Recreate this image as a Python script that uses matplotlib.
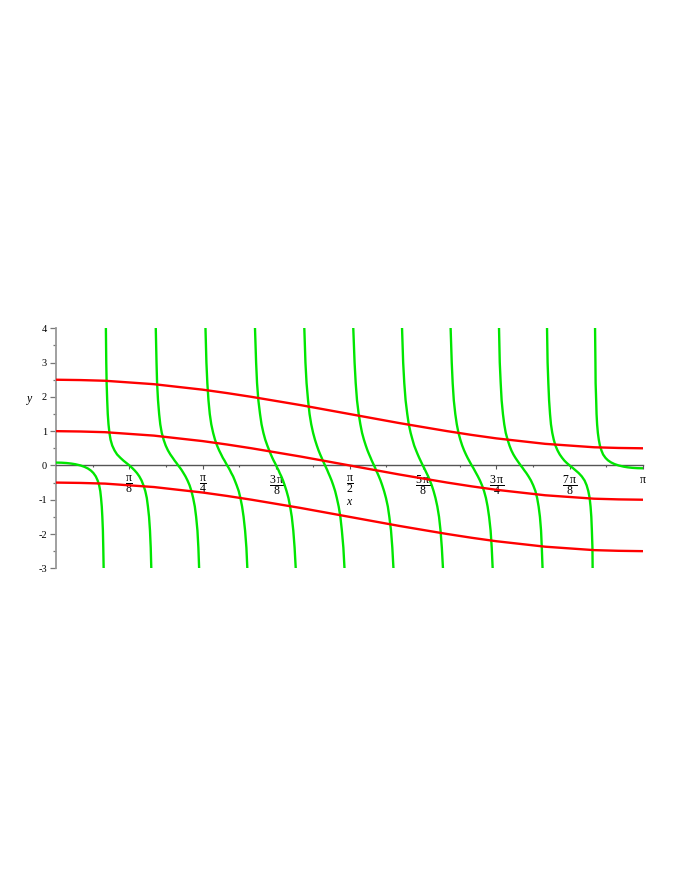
import numpy as np
import matplotlib
matplotlib.use("Agg")
import matplotlib.pyplot as plt

plt.rcParams['font.family'] = ['Liberation Serif', 'DejaVu Serif']
plt.rcParams['mathtext.fontset'] = 'custom'
plt.rcParams['mathtext.rm'] = 'Liberation Serif'
plt.rcParams['mathtext.it'] = 'Liberation Serif:italic'

# ---------------- data ----------------
# red curves sampled at x = k*pi/24
RED_X = [0.0, 0.131, 0.262, 0.393, 0.524, 0.654, 0.785, 0.916, 1.047, 1.178, 1.309,
         1.440, 1.571, 1.702, 1.833, 1.963, 2.094, 2.225, 2.356, 2.487, 2.618, 2.749,
         2.880, 3.011, 3.1416]
RED_TOP = [2.5, 2.49, 2.47, 2.42, 2.37, 2.29, 2.21, 2.11, 2.0, 1.88, 1.76, 1.63, 1.5,
           1.37, 1.24, 1.12, 1.0, 0.89, 0.79, 0.71, 0.63, 0.58, 0.53, 0.51, 0.5]
RED_MID = [1.0, 0.99, 0.97, 0.92, 0.87, 0.79, 0.71, 0.61, 0.5, 0.38, 0.26, 0.13, 0.0,
           -0.13, -0.26, -0.38, -0.5, -0.61, -0.71, -0.79, -0.87, -0.92, -0.97, -0.99, -1.0]
RED_BOT = [-0.5, -0.51, -0.53, -0.58, -0.63, -0.71, -0.79, -0.89, -1.0, -1.12, -1.24,
           -1.37, -1.5, -1.63, -1.76, -1.88, -2.0, -2.11, -2.21, -2.29, -2.37, -2.42,
           -2.47, -2.49, -2.5]

# green curve: each branch is listed as x positions at given y levels
GREEN_LEVELS = [4, 3, 2.4, 1.9, 1.5, 1.2, 0.95, 0.75, 0.58, 0.44, 0.32, 0.22, 0.14, 0.07, 0,
                -0.07, -0.14, -0.22, -0.32, -0.44, -0.58, -0.75, -0.95, -1.2, -1.5, -1.9,
                -2.4, -3]
GREEN_FIRST_LEVELS = [0.083, 0.08, 0.07, 0.055, 0.035, 0, -0.04, -0.09, -0.15, -0.22, -0.32,
                      -0.44, -0.58, -0.75, -0.95, -1.2, -1.5, -1.9, -2.4, -3]
GREEN_LAST_LEVELS = [4, 3, 2.4, 1.9, 1.5, 1.2, 0.95, 0.75, 0.58, 0.44, 0.32, 0.22, 0.15,
                     0.09, 0.04, 0, -0.035, -0.055, -0.07, -0.08, -0.083]

GREEN_B0 = [0.0, 0.029, 0.057, 0.081, 0.104, 0.131, 0.152, 0.171, 0.187, 0.200, 0.213,
            0.223, 0.231, 0.237, 0.241, 0.245, 0.248, 0.251, 0.253, 0.255]
GREEN_B1 = [0.267, 0.269, 0.271, 0.274, 0.277, 0.281, 0.286, 0.292, 0.301, 0.313, 0.327,
            0.345, 0.361, 0.377, 0.393, 0.407, 0.420, 0.433, 0.446, 0.458, 0.468, 0.478,
            0.486, 0.492, 0.498, 0.503, 0.507, 0.510]
GREEN_B2 = [0.534, 0.538, 0.541, 0.546, 0.552, 0.558, 0.566, 0.576, 0.587, 0.599, 0.612,
            0.625, 0.635, 0.645, 0.654, 0.664, 0.673, 0.682, 0.693, 0.704, 0.715, 0.725,
            0.734, 0.743, 0.750, 0.757, 0.762, 0.766]
GREEN_B3 = [0.800, 0.805, 0.810, 0.816, 0.823, 0.831, 0.841, 0.851, 0.862, 0.873, 0.884,
            0.893, 0.902, 0.909, 0.916, 0.924, 0.931, 0.938, 0.948, 0.957, 0.967, 0.978,
            0.987, 0.996, 1.004, 1.012, 1.019, 1.024]
GREEN_B4 = [1.065, 1.071, 1.076, 1.083, 1.092, 1.100, 1.110, 1.120, 1.131, 1.141, 1.150,
            1.158, 1.165, 1.172, 1.178, 1.184, 1.191, 1.197, 1.206, 1.215, 1.224, 1.234,
            1.244, 1.253, 1.262, 1.270, 1.277, 1.283]
GREEN_B5 = [1.329, 1.335, 1.341, 1.349, 1.357, 1.366, 1.376, 1.386, 1.396, 1.405, 1.414,
            1.422, 1.428, 1.434, 1.440, 1.446, 1.452, 1.458, 1.466, 1.475, 1.484, 1.494,
            1.503, 1.513, 1.522, 1.530, 1.538, 1.544]
GREEN_B6 = [1.591, 1.598, 1.604, 1.611, 1.620, 1.629, 1.638, 1.648, 1.658, 1.667, 1.676,
            1.684, 1.690, 1.696, 1.702, 1.708, 1.713, 1.720, 1.728, 1.737, 1.746, 1.756,
            1.766, 1.776, 1.784, 1.793, 1.800, 1.806]
GREEN_B7 = [1.852, 1.858, 1.864, 1.871, 1.880, 1.888, 1.898, 1.908, 1.917, 1.927, 1.936,
            1.944, 1.951, 1.957, 1.963, 1.970, 1.976, 1.983, 1.992, 2.001, 2.011, 2.021,
            2.031, 2.041, 2.050, 2.058, 2.065, 2.071]
GREEN_B8 = [2.112, 2.118, 2.123, 2.129, 2.137, 2.145, 2.154, 2.164, 2.174, 2.184, 2.194,
            2.203, 2.211, 2.218, 2.225, 2.233, 2.240, 2.248, 2.258, 2.269, 2.280, 2.291,
            2.301, 2.310, 2.318, 2.326, 2.332, 2.337]
GREEN_B9 = [2.371, 2.375, 2.380, 2.385, 2.392, 2.399, 2.407, 2.417, 2.427, 2.437, 2.448,
            2.459, 2.469, 2.478, 2.487, 2.497, 2.506, 2.517, 2.529, 2.542, 2.554, 2.566,
            2.575, 2.583, 2.590, 2.596, 2.600, 2.604]
GREEN_B10 = [2.628, 2.631, 2.635, 2.639, 2.644, 2.649, 2.656, 2.664, 2.673, 2.684, 2.696,
             2.709, 2.721, 2.734, 2.749, 2.765, 2.780, 2.797, 2.814, 2.829, 2.840, 2.849,
             2.856, 2.861, 2.865, 2.868, 2.871, 2.872]
GREEN_B11 = [2.885, 2.887, 2.888, 2.891, 2.893, 2.896, 2.900, 2.905, 2.911, 2.919, 2.928,
             2.941, 2.954, 2.970, 2.989, 3.011, 3.038, 3.060, 3.085, 3.113, 3.1416]

X_TICKS = [0.3927, 0.7854, 1.1781, 1.5708, 1.9635, 2.3562, 2.7489, 3.1416]
X_TICK_LABELS = [r'$\dfrac{\mathrm{π}}{\mathrm{8}}$', r'$\dfrac{\mathrm{π}}{\mathrm{4}}$',
                 r'$\dfrac{\mathrm{3\,π}}{\mathrm{8}}$', r'$\dfrac{\mathrm{π}}{\mathrm{2}}$',
                 r'$\dfrac{\mathrm{5\,π}}{\mathrm{8}}$', r'$\dfrac{\mathrm{3\,π}}{\mathrm{4}}$',
                 r'$\dfrac{\mathrm{7\,π}}{\mathrm{8}}$', 'π']
X_MINOR = [0.1963, 0.5890, 0.9817, 1.3744, 1.7671, 2.1598, 2.5525, 2.9452]
Y_TICKS = [-3, -2, -1, 0, 1, 2, 3, 4]
Y_TICK_LABELS = ['-3', '-2', '-1', '0', '1', '2', '3', '4']
Y_MINOR = [-2.5, -1.5, -0.5, 0.5, 1.5, 2.5, 3.5]

# ---------------- figure ----------------
W, H = 692, 896
fig = plt.figure(figsize=(W / 100, H / 100), dpi=100)
ax = fig.add_axes([56 / W, 1 - 568.3 / H, 587 / W, 240 / H])

GREEN = '#00e600'
RED = '#ff0000'
LW = 1.7

middle = [GREEN_B1, GREEN_B2, GREEN_B3, GREEN_B4, GREEN_B5, GREEN_B6, GREEN_B7,
          GREEN_B8, GREEN_B9, GREEN_B10]
ax.plot(GREEN_B0, GREEN_FIRST_LEVELS, color=GREEN, lw=LW, zorder=3)
for bx in middle:
    ax.plot(bx, GREEN_LEVELS, color=GREEN, lw=LW, zorder=3)
ax.plot(GREEN_B11, GREEN_LAST_LEVELS, color=GREEN, lw=LW, zorder=3)

for ry in (RED_TOP, RED_MID, RED_BOT):
    ax.plot(RED_X, ry, color=RED, lw=LW, zorder=4)

ax.set_xlim(0, 3.1416)
ax.set_ylim(-3, 4)

for s in ('top', 'right'):
    ax.spines[s].set_visible(False)
ax.spines['bottom'].set_position(('data', 0))
ax.spines['bottom'].set_color('#555555')
ax.spines['bottom'].set_linewidth(1.0)
ax.spines['left'].set_color('#999999')
ax.spines['left'].set_linewidth(1.3)
ax.spines['bottom'].set_zorder(2)
ax.spines['left'].set_zorder(2)

ax.set_xticks(X_TICKS)
ax.set_xticklabels(X_TICK_LABELS, fontsize=8.5)
ax.set_xticks(X_MINOR, minor=True)
ax.set_yticks(Y_TICKS)
ax.set_yticklabels(Y_TICK_LABELS, fontsize=7.5)
ax.set_yticks(Y_MINOR, minor=True)

ax.tick_params(axis='x', which='major', direction='out', length=3, width=0.8,
               color='#555555', pad=3.0)
ax.tick_params(axis='x', which='minor', direction='out', length=1.5, width=0.8,
               color='#555555')
ax.tick_params(axis='y', which='major', direction='out', length=4, width=0.9,
               color='#777777', pad=2.5)
ax.tick_params(axis='y', which='minor', direction='out', length=2, width=0.9,
               color='#777777')

fig.text(30 / W, 1 - 398.7 / H, 'y', fontsize=8.5, style='italic',
         ha='center', va='center')
fig.text(349 / W, 1 - 502 / H, 'x', fontsize=8.5, style='italic',
         ha='center', va='center')

fig.savefig("out.png", dpi=100)
